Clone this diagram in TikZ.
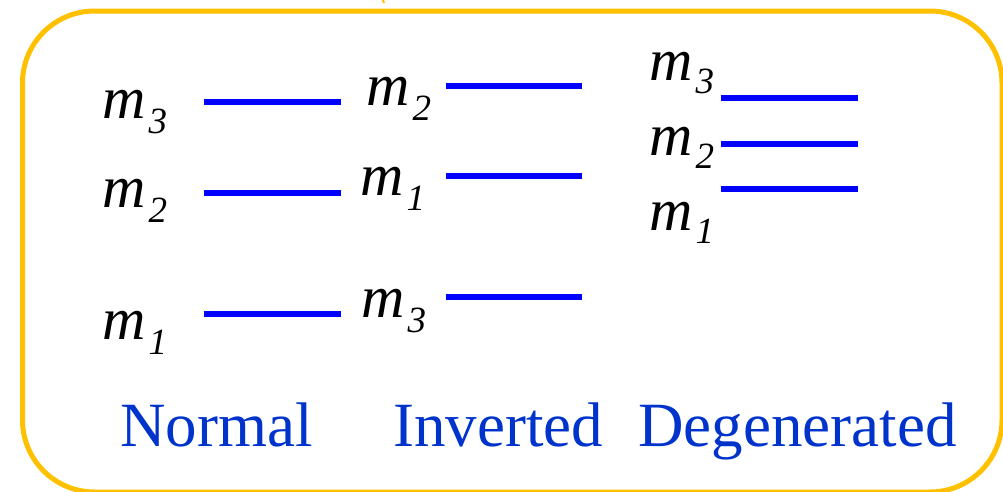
\documentclass[tikz,border=0pt]{standalone}
\usepackage{fontspec}
\setmainfont{Liberation Serif}
\definecolor{frameorange}{RGB}{255,192,0}
\definecolor{levelblue}{RGB}{0,0,255}
\definecolor{textblue}{RGB}{0,51,204}
\newcommand{\mass}[2][15pt]{\fontsize{60}{70}\selectfont\itshape m\kern3pt\raisebox{-#1}{\fontsize{37}{40}\selectfont #2}}
\begin{document}
\begin{tikzpicture}[x=1pt,y=-1pt,
  level/.style={line width=6pt,levelblue},
  masslab/.style={anchor=base west,inner sep=0pt,text=black},
  schemelab/.style={anchor=base west,inner sep=0pt,text=textblue,font=\fontsize{63}{70}\selectfont}]
\useasboundingbox (0,0) rectangle (1003,491);
\begin{scope}
\clip (0,0) rectangle (1003,491);
\draw[frameorange,line width=5pt,rounded corners=72pt] (22.5,11) rectangle (1002,492);
\end{scope}
\draw[frameorange,line width=2pt] (383,0) -- (384,3);
% Normal
\draw[level] (204,102) -- (341,102);
\draw[level] (204,193) -- (341,193);
\draw[level] (204,314) -- (341,314);
\node[masslab] (n3) at (102,118) {\mass{3}};
\node[masslab] (n2) at (102,207) {\mass{2}};
\node[masslab] (n1) at (102,339) {\mass{1}};
% Inverted
\draw[level] (446,86) -- (582,86);
\draw[level] (446,176) -- (582,176);
\draw[level] (446,297) -- (582,297);
\node[masslab] (i2) at (366,105) {\mass{2}};
\node[masslab] (i1) at (360,195) {\mass{1}};
\node[masslab] (i3) at (361,317) {\mass{3}};
% Degenerated
\draw[level] (721,98) -- (858,98);
\draw[level] (721,144) -- (858,144);
\draw[level] (721,189) -- (858,189);
\node[masslab] (d3) at (649,80) {\mass[13pt]{3}};
\node[masslab] (d2) at (649,155) {\mass[13pt]{2}};
\node[masslab] (d1) at (649,230) {\mass[13pt]{1}};
% scheme labels
\node[schemelab] (normal) at (120,446) {Normal};
\node[schemelab] (inverted) at (393,446) {Inverted};
\node[schemelab] (degen) at (638,446) {Degenerated};
\end{tikzpicture}
\end{document}
